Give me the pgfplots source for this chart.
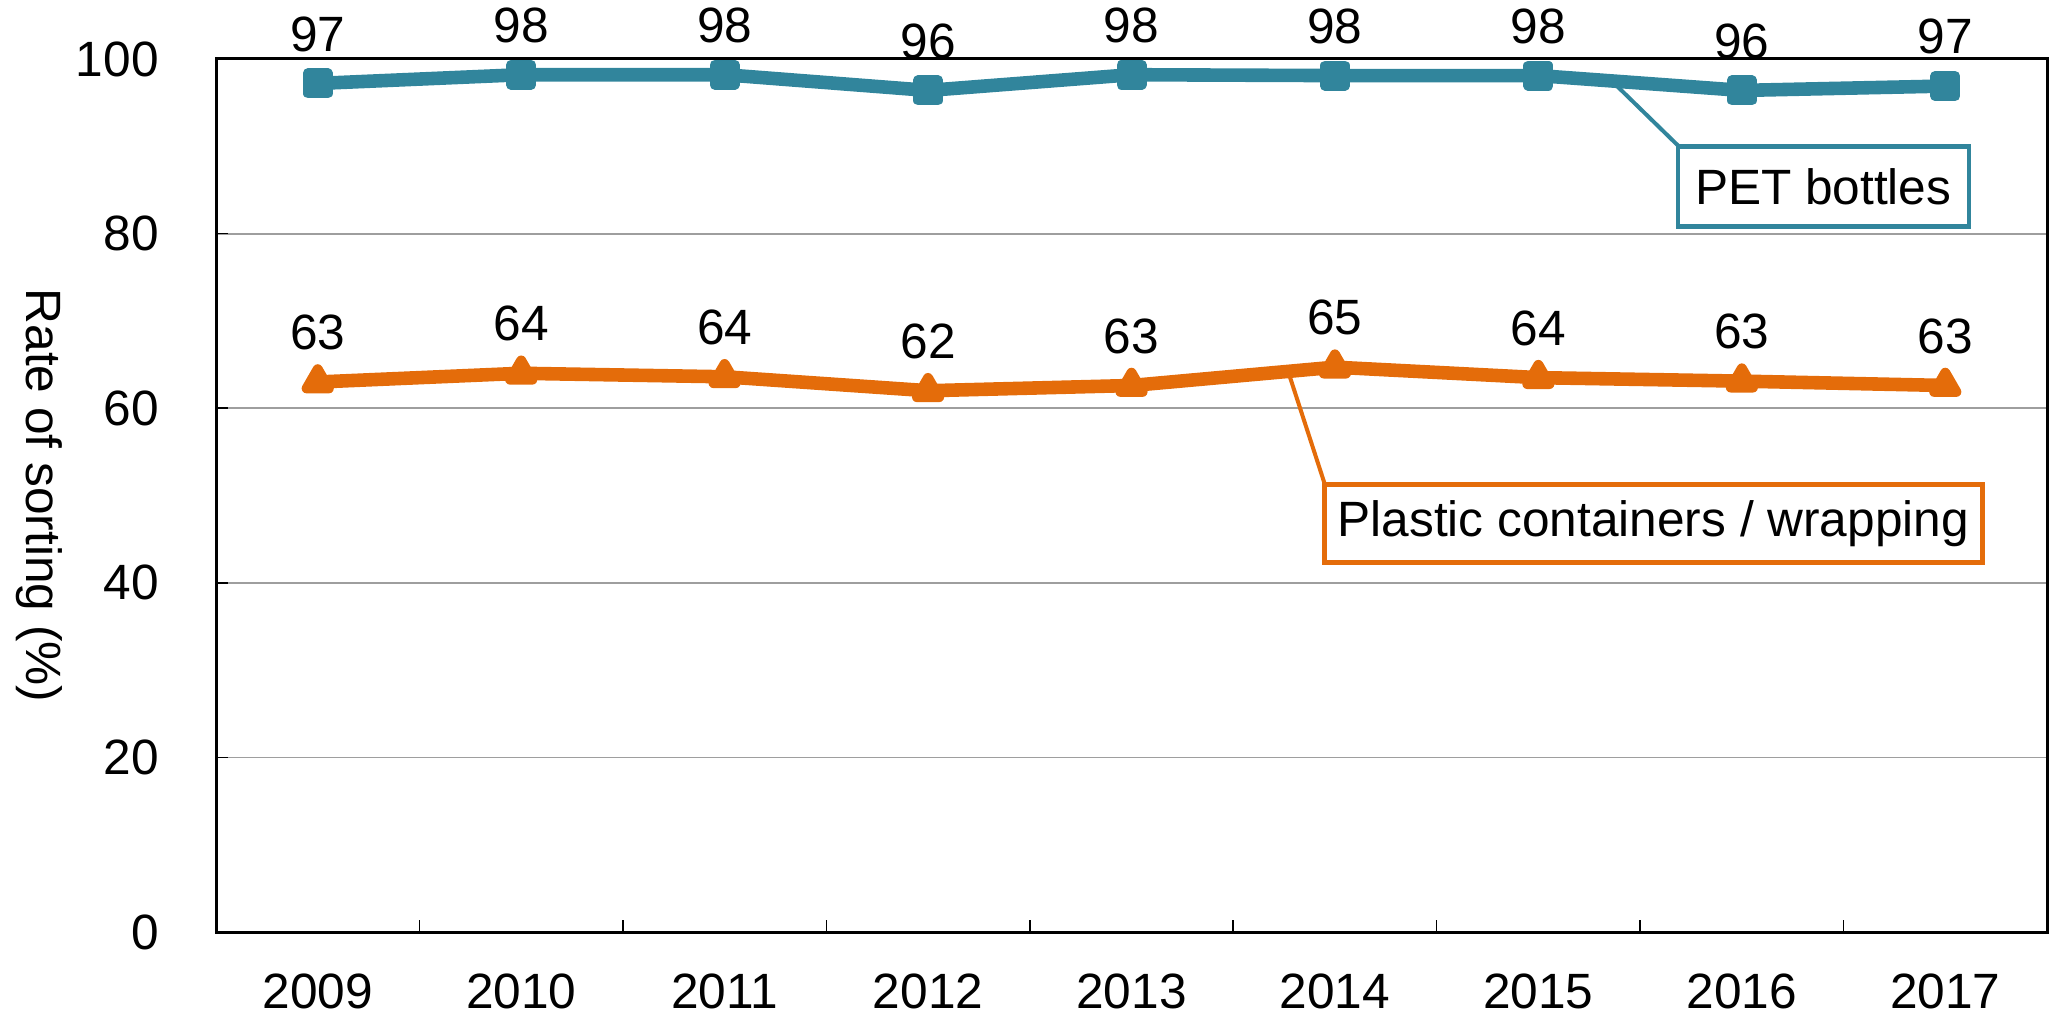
\documentclass[border=0pt]{standalone}
\usepackage{fontspec}
\setmainfont{Liberation Sans}
\usepackage{pgfplots}
\pgfplotsset{compat=1.18}
\definecolor{tealc}{HTML}{31859C}
\definecolor{orangec}{HTML}{E46C0A}
\begin{document}
\begin{tikzpicture}[font=\fontsize{12.4}{14.9}\selectfont]
\begin{axis}[
  name=ax,
  scale only axis,
  width=457.75pt, height=218.25pt,
  xmin=-0.5, xmax=8.5, ymin=0, ymax=100,
  xtick={0,...,8},
  xticklabels={2009,2010,2011,2012,2013,2014,2015,2016,2017},
  minor xtick={0.5,1.5,...,7.5},
  major x tick style={draw=none},
  minor tick length=3pt,
  xtick pos=bottom,
  ytick={0,20,...,100},
  ytick pos=left,
  major tick length=3pt,
  tick align=inside,
  tick style={black, line width=0.4pt},
  ymajorgrids,
  grid style={color=black!38, line width=0.45pt},
  axis line style={line width=0.75pt},
  /pgf/number format/assume math mode=true,
  ticklabel style={font=\fontsize{12.4}{14.9}\selectfont},
  yticklabel style={xshift=-10.8pt},
  xticklabel style={yshift=-7pt},
  ylabel={Rate of sorting (\%)},
  ylabel style={at={(axis description cs:-0.0967,0.5)}, anchor=center, rotate=180},
  clip=false,
  point meta=explicit symbolic,
  nodes near coords,
  nodes near coords style={font=\fontsize{12.4}{14.9}\selectfont, text=black, anchor=south, yshift=3.4pt},
]
\addplot[color=tealc, line width=3.4pt, mark=square*, mark size=2.5pt,
  mark options={line width=2.5pt, line join=round, fill=tealc, draw=tealc}]
  coordinates {(0,97.2)[97] (1,98.2)[98] (2,98.2)[98] (3,96.4)[96] (4,98.2)[98]
               (5,98.1)[98] (6,98.1)[98] (7,96.4)[96] (8,96.9)[97]};
\addplot[color=orangec, line width=3.4pt, mark=triangle*, mark size=3.2pt,
  mark options={line width=2.5pt, line join=round, fill=orangec, draw=orangec}]
  coordinates {(0,63.0)[63] (1,64.0)[64] (2,63.6)[64] (3,62.0)[62] (4,62.6)[63]
               (5,64.7)[65] (6,63.5)[64] (7,63.1)[63] (8,62.6)[63]};
\draw[tealc, line width=1pt] (axis cs:6.36,97.5) -- (axis cs:6.69,90.0);
\node[draw=tealc, line width=1.1pt, fill=white, minimum width=72.75pt, minimum height=20pt, inner sep=0pt]
  at (axis cs:7.40,85.4) {PET bottles};
\draw[orangec, line width=1pt] (axis cs:4.77,64.2) -- (axis cs:4.95,51.3);
\node[draw=orangec, line width=1.1pt, fill=white, minimum width=164.5pt, minimum height=19.5pt, inner sep=0pt]
  at (axis cs:6.565,46.8) {Plastic containers / wrapping};
\end{axis}
\pgfresetboundingbox
\path ([xshift=-54pt,yshift=-21.75pt]ax.south west) rectangle ([xshift=1pt,yshift=14.75pt]ax.north east);
\end{tikzpicture}
\end{document}
